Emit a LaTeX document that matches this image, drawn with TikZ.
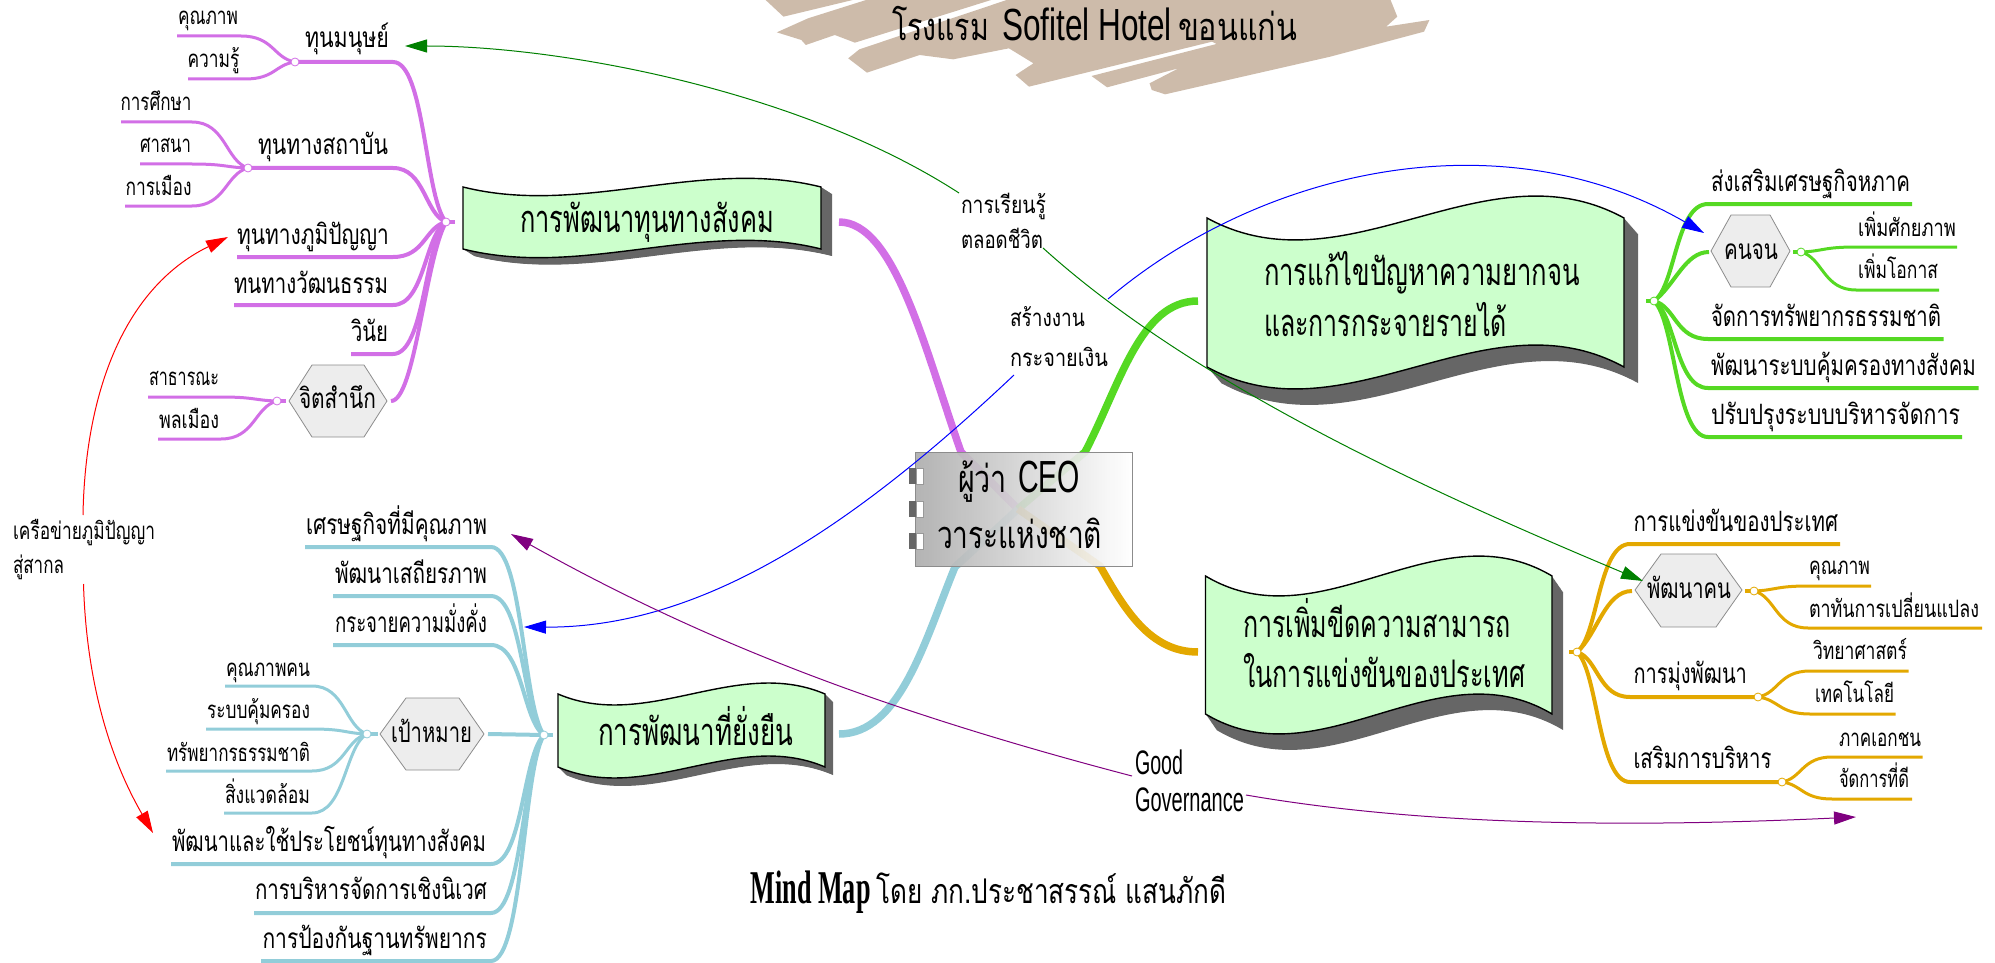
\documentclass[tikz,border=0pt]{standalone}
\usepackage{fontspec}
\usepackage{graphicx}
\usetikzlibrary{calc,arrows.meta}
\newfontfamily\thaifont[Script=Thai]{Loma}
\newfontfamily\latinsf{Liberation Sans}
\newfontfamily\latinrm{Liberation Serif}
\newcommand\fitw[2]{\resizebox{#1pt}{\height}{#2}}
\definecolor{cpur}{HTML}{D26FE6}
\definecolor{cblu}{HTML}{92CDD9}
\definecolor{cgrn}{HTML}{55D923}
\definecolor{cgld}{HTML}{E3A800}
\definecolor{cbrush}{HTML}{CDBBAA}
\definecolor{cban}{HTML}{CCFFCC}
\tikzset{
 lab/.style={inner sep=0pt,outer sep=0pt,anchor=base west,text=black},
 ssm/.style={lab,font=\thaifont\fontsize{24}{24}\selectfont},
 sbg/.style={lab,font=\thaifont\fontsize{28}{28}\selectfont},
 sban/.style={lab,font=\thaifont\fontsize{38}{38}\selectfont},
 big/.style={line width=4pt,line cap=butt},
 sml/.style={line width=3pt,line cap=butt},
 main/.style={line width=7.5pt,line cap=butt},
 hexa/.style={fill=black!7,draw=black!45,line width=.8pt},
 link/.style={line width=1pt,-{Triangle[length=22pt,width=13pt]}},
}
% hub, name, near x, far x, y, style
\newcommand\brn[6]{%
 \coordinate (#2n) at (#3,#5); \coordinate (#2f) at (#4,#5);
 \draw[#6] (#2f) -- (#2n) let \p1=(#1),\p2=(#2n),\n1={\x2+.6*(\x1-\x2)},\n2={\y1+.15*(\y2-\y1)} in .. controls (\n1,\y2) and (\n1,\n2) .. (#1);}
\newcommand\hubc[2]{\draw[#2,fill=white,line width=.8pt] (#1) circle (4pt);}
% x,y,W,H,A,shadowx,shadowy
\newcommand\bannerpath[5]{(#1,#2) .. controls ({#1+#3/3},{#2+#5}) and ({#1+2*#3/3},{#2-#5}) .. ({#1+#3},#2) -- ({#1+#3},{#2+#4}) .. controls ({#1+2*#3/3},{#2+#4-#5}) and ({#1+#3/3},{#2+#4+#5}) .. (#1,{#2+#4}) -- cycle}
\newcommand\banner[7]{%
 \foreach \k in {1,...,16}{\fill[black!60,shift={({#6*\k/16},{#7*\k/16})}] \bannerpath{#1}{#2}{#3}{#4}{#5};}
 \filldraw[fill=cban,draw=black,line width=1.4pt] \bannerpath{#1}{#2}{#3}{#4}{#5};}
\begin{document}
\begin{tikzpicture}[x=1pt,y=-1pt]
\useasboundingbox (0,0) rectangle (1995,963);
% brush
\begin{scope}[shift={(750,0)},x=.4464pt,y=-.3333pt]
\fill[cbrush] (35,0)--(75,50)--(230,0)--cycle;
\fill[cbrush] (260,0)--(130,55)--(60,97)--(115,120)--(125,135)--(190,105)--(235,128)--(540,0)--cycle;
\fill[cbrush] (575,0)--(245,148)--(220,175)--(262,218)--(380,165)--(455,178)--(580,145)--(635,190)--(595,225)--(625,260)--(1035,125)--(1045,132)--(765,228)--(800,262)--(960,205)--(895,250)--(900,270)--(930,283)--(1300,170)--(1510,95)--(1522,60)--(1425,80)--(1450,50)--(1435,0)--cycle;
\end{scope}
% hubs
\coordinate (hp) at (446,222); \coordinate (hb) at (544,735); \coordinate (hg) at (1654,301); \coordinate (hy) at (1577,652);
\coordinate (ctr) at (1018,509);
\coordinate (a1) at (295,62); \coordinate (a2) at (248,168); \coordinate (a6) at (277,401);
\coordinate (b4) at (367,734);
\coordinate (g2) at (1801,252);
\coordinate (y2) at (1754,591); \coordinate (y3) at (1758,697); \coordinate (y4) at (1782,782);
% main connectors
\coordinate (mp) at (839,222); \coordinate (mb) at (839,734); \coordinate (mg) at (1198,301); \coordinate (my) at (1198,652);
\draw[main,cpur] (mp) .. controls (895,222) and (925,350) .. (961,452) -- (ctr);
\draw[main,cblu] (mb) .. controls (900,734) and (925,640) .. (955,567) -- (ctr);
\draw[main,cgrn] (mg) .. controls (1140,301) and (1120,385) .. (1085,452) -- (ctr);
\draw[main,cgld] (my) .. controls (1150,652) and (1125,610) .. (1100,566) -- (ctr);
% purple tree
\coordinate (hpe) at (455,222); \draw[big,cpur] (hp) -- (hpe);
\brn{hp}{p1}{393}{295}{62}{big,cpur}
\brn{a1}{p11}{241}{177}{36}{sml,cpur}
\brn{a1}{p12}{245}{188}{79}{sml,cpur}
\brn{hp}{p2}{393}{248}{168}{big,cpur}
\brn{a2}{p21}{192}{121}{122}{sml,cpur}
\brn{a2}{p22}{192}{140}{164}{sml,cpur}
\brn{a2}{p23}{192}{125}{206}{sml,cpur}
\brn{hp}{p3}{393}{237}{257}{big,cpur}
\brn{hp}{p4}{393}{234}{305}{big,cpur}
\brn{hp}{p5}{393}{351}{354}{big,cpur}
\coordinate (p6e) at (391,401);
\draw[big,cpur] (p6e) .. controls (415,401) and (425,260) .. (hp);
\coordinate (p6s) at (286,401); \draw[big,cpur] (a6) -- (p6s);
\brn{a6}{p61}{221}{148}{397}{sml,cpur}
\brn{a6}{p62}{221}{158}{439}{sml,cpur}
\draw[hexa] (289,401)--(312,365)--(364,365)--(387,401)--(364,437)--(312,437)--cycle;
% blue tree
\coordinate (hbe) at (553,735); \draw[big,cblu] (hb) -- (hbe);
\brn{hb}{b1}{491}{305}{547}{big,cblu}
\brn{hb}{b2}{491}{333}{596}{big,cblu}
\brn{hb}{b3}{491}{333}{645}{big,cblu}
\coordinate (b4e) at (488,734); \draw[big,cblu] (b4e) -- (hb);
\coordinate (b4s) at (378,734); \draw[big,cblu] (b4) -- (b4s);
\brn{b4}{b41}{312}{225}{686}{sml,cblu}
\brn{b4}{b42}{312}{206}{729}{sml,cblu}
\brn{b4}{b43}{312}{166}{771}{sml,cblu}
\brn{b4}{b44}{312}{224}{813}{sml,cblu}
\draw[hexa] (380,734)--(406,698)--(459,698)--(484,734)--(459,770)--(406,770)--cycle;
\brn{hb}{b5}{491}{171}{864}{big,cblu}
\brn{hb}{b6}{491}{254}{913}{big,cblu}
\brn{hb}{b7}{491}{261}{961}{big,cblu}
% green tree
\coordinate (hge) at (1646,301); \draw[big,cgrn] (hg) -- (hge);
\brn{hg}{g1}{1708}{1912}{204}{big,cgrn}
\coordinate (g2e) at (1709,252);
\draw[big,cgrn] (g2e) .. controls (1685,252) and (1675,285) .. (hg);
\coordinate (g2s) at (1793,252); \draw[big,cgrn] (g2) -- (g2s);
\brn{g2}{g21}{1856}{1957}{247}{sml,cgrn}
\brn{g2}{g22}{1856}{1939}{290}{sml,cgrn}
\draw[hexa] (1711,251)--(1731,215)--(1770,215)--(1790,251)--(1770,287)--(1731,287)--cycle;
\brn{hg}{g3}{1708}{1943.5}{339}{big,cgrn}
\brn{hg}{g4}{1708}{1978.6}{388}{big,cgrn}
\brn{hg}{g5}{1708}{1962}{437}{big,cgrn}
% gold tree
\coordinate (hye) at (1569,652); \draw[big,cgld] (hy) -- (hye);
\brn{hy}{y1}{1630}{1840}{544}{big,cgld}
\coordinate (y2e) at (1632,591);
\draw[big,cgld] (y2e) .. controls (1605,591) and (1597,635) .. (hy);
\coordinate (y2s) at (1745,591); \draw[big,cgld] (y2) -- (y2s);
\brn{y2}{y21}{1808}{1871}{586}{sml,cgld}
\brn{y2}{y22}{1808}{1982}{628}{sml,cgld}
\draw[hexa] (1635,590)--(1661,554)--(1716,554)--(1742,590)--(1716,627)--(1661,627)--cycle;
\brn{hy}{y3n0}{1630}{1758}{697}{big,cgld}
\brn{y3}{y31}{1810}{1908.5}{671}{sml,cgld}
\brn{y3}{y32}{1810}{1895.5}{714}{sml,cgld}
\brn{hy}{y4n0}{1630}{1782}{782}{big,cgld}
\brn{y4}{y41}{1832}{1922.5}{757}{sml,cgld}
\brn{y4}{y42}{1832}{1912}{799}{sml,cgld}
% hub circles
\foreach \h/\c in {hp/cpur,a1/cpur,a2/cpur,a6/cpur,hb/cblu,b4/cblu,hg/cgrn,g2/cgrn,hy/cgld,y2/cgld,y3/cgld,y4/cgld}{\hubc{\h}{\c}}
% banners
\banner{463}{187}{358}{62}{30}{11}{7}
\banner{558}{694}{267}{73}{38}{8}{8}
\banner{1207}{218}{417}{149}{76}{14}{16}
\banner{1205.5}{576}{346.5}{138}{69}{11}{16}
% central box
\shade[left color=black!32,right color=white,draw=black!45,line width=1pt,fill opacity=.93] (915,452) rectangle (1132,566);
\foreach \ty in {468,501,533}{
 \fill[black!60] (909,\ty) rectangle (916,\ty+16);
 \filldraw[fill=white,draw=black!40,line width=.6pt] (916,\ty) rectangle (923,\ty+16);}
% banner / box text
\node[sban] (tb1) at (520,233) {\fitw{254}{การพัฒนาทุนทางสังคม}};
\node[sban] (tb4) at (598,745) {\fitw{195}{การพัฒนาที่ยั่งยืน}};
\node[sban] (tb2a) at (1264,285) {\fitw{316}{การแก้ไขปัญหาความยากจน}};
\node[sban] (tb2b) at (1264,336) {\fitw{243}{และการกระจายรายได้}};
\node[sban] (tb3a) at (1243,637) {\fitw{268}{การเพิ่มขีดความสามารถ}};
\node[sban] (tb3b) at (1243,687) {\fitw{282}{ในการแข่งขันของประเทศ}};
\node[sban] (tc1) at (958,492) {\fitw{49}{ผู้ว่า}\hspace{11pt}\fitw{62}{\latinsf\fontsize{45}{45}\selectfont CEO}};
\node[sban] (tc2) at (937,548) {\fitw{165}{วาระแห่งชาติ}};
% purple labels
\node[ssm] (l1) at (178,25) {\fitw{60}{คุณภาพ}};
\node[ssm] (l2) at (187.5,68) {\fitw{52}{ความรู้}};
\node[sbg] (l3) at (305,48) {\fitw{84}{ทุนมนุษย์}};
\node[ssm] (l4) at (120.5,111) {\fitw{71}{การศึกษา}};
\node[ssm] (l5) at (140,153) {\fitw{51}{ศาสนา}};
\node[ssm] (l6) at (125.5,195) {\fitw{66}{การเมือง}};
\node[sbg] (l7) at (258,155) {\fitw{130}{ทุนทางสถาบัน}};
\node[sbg] (l8) at (237,244) {\fitw{152}{ทุนทางภูมิปัญญา}};
\node[sbg] (l9) at (234,293) {\fitw{154}{ทนทางวัฒนธรรม}};
\node[sbg] (l10) at (351,341) {\fitw{37}{วินัย}};
\node[sbg] (l11) at (299,408) {\fitw{77}{จิตสำนึก}};
\node[ssm] (l12) at (149,385) {\fitw{70}{สาธารณะ}};
\node[ssm] (l13) at (159,428) {\fitw{60}{พลเมือง}};
% left notes
\node[ssm] (n1) at (13,539) {\fitw{142}{เครือข่ายภูมิปัญญา}};
\node[ssm] (n2) at (13,573) {\fitw{51}{สู่สากล}};
% blue labels
\node[sbg] (b1t) at (306,534) {\fitw{181}{เศรษฐกิจที่มีคุณภาพ}};
\node[sbg] (b2t) at (335,583) {\fitw{152}{พัฒนาเสถียรภาพ}};
\node[sbg] (b3t) at (335,632) {\fitw{152}{กระจายความมั่งคั่ง}};
\node[ssm] (b41t) at (226,676) {\fitw{84}{คุณภาพคน}};
\node[ssm] (b42t) at (207,718) {\fitw{103}{ระบบคุ้มครอง}};
\node[ssm] (b43t) at (167,761) {\fitw{143}{ทรัพยากรธรรมชาติ}};
\node[ssm] (b44t) at (225,803) {\fitw{85}{สิ่งแวดล้อม}};
\node[sbg] (b4t) at (391,742) {\fitw{81}{เป้าหมาย}};
\node[sbg] (b5t) at (172,851) {\fitw{314}{พัฒนาและใช้ประโยชน์ทุนทางสังคม}};
\node[sbg] (b6t) at (255,899) {\fitw{232}{การบริหารจัดการเชิงนิเวศ}};
\node[sbg] (b7t) at (262.5,948) {\fitw{224.5}{การป้องกันฐานทรัพยากร}};
% green labels
\node[sbg] (g1t) at (1711,192) {\fitw{199}{ส่งเสริมเศรษฐกิจหภาค}};
\node[sbg] (g2t) at (1724,259) {\fitw{54}{คนจน}};
\node[ssm] (g21t) at (1858,236) {\fitw{98}{เพิ่มศักยภาพ}};
\node[ssm] (g22t) at (1858,278) {\fitw{80}{เพิ่มโอกาส}};
\node[sbg] (g3t) at (1711,326) {\fitw{230}{จัดการทรัพยากรธรรมชาติ}};
\node[sbg] (g4t) at (1711,375) {\fitw{265}{พัฒนาระบบคุ้มครองทางสังคม}};
\node[sbg] (g5t) at (1711,424) {\fitw{249}{ปรับปรุงระบบบริหารจัดการ}};
% gold labels
\node[sbg] (y1t) at (1633.5,531) {\fitw{204.5}{การแข่งขันของประเทศ}};
\node[sbg] (y2t) at (1647,598) {\fitw{84}{พัฒนาคน}};
\node[ssm] (y21t) at (1809,574) {\fitw{61}{คุณภาพ}};
\node[ssm] (y22t) at (1809,617) {\fitw{170}{ตาทันการเปลี่ยนแปลง}};
\node[ssm] (y31t) at (1813,659) {\fitw{94}{วิทยาศาสตร์}};
\node[ssm] (y32t) at (1815,702) {\fitw{79}{เทคโนโลยี}};
\node[sbg] (y3t) at (1633.5,683) {\fitw{113.5}{การมุ่งพัฒนา}};
\node[sbg] (y4t) at (1633.5,768) {\fitw{138}{เสริมการบริหาร}};
\node[ssm] (y41t) at (1839,746) {\fitw{82}{ภาคเอกชน}};
\node[ssm] (y42t) at (1839,787) {\fitw{70}{จัดการที่ดี}};
% middle labels
\node[ssm] (m1) at (961,213) {\fitw{85}{การเรียนรู้}};
\node[ssm] (m2) at (961,248) {\fitw{82}{ตลอดชีวิต}};
\node[ssm] (m3) at (1010,326) {\fitw{75}{สร้างงาน}};
\node[ssm] (m4) at (1010,366) {\fitw{98}{กระจายเงิน}};
\node[lab,font=\latinsf\fontsize{34}{34}\selectfont] (m5) at (1135,774) {\fitw{48}{Good}};
\node[lab,font=\latinsf\fontsize{34}{34}\selectfont] (m6) at (1135,811) {\fitw{109}{Governance}};
% titles
\node[sbg] (t1) at (892,41) {\fitw{97}{\fontsize{38}{38}\selectfont โรงแรม}\hspace{13pt}\fitw{170}{\latinsf\fontsize{45}{45}\selectfont Sofitel Hotel}\hspace{6pt}\fitw{119}{\fontsize{38}{38}\selectfont ขอนแก่น}};
\node[sbg] (t2) at (750.6,903) {\fitw{120}{\latinrm\bfseries\fontsize{47}{47}\selectfont Mind Map}\hspace{6pt}\fitw{350}{\fontsize{34}{34}\selectfont โดย ภก.ประชาสรรณ์ แสนภักดี}};
% links
\coordinate (s1) at (959,193); \coordinate (e1) at (405,46);
\coordinate (s2) at (1043,248); \coordinate (e2) at (1643,581);
\coordinate (s3) at (1014,375); \coordinate (e3) at (524,627);
\coordinate (s4) at (1108,299); \coordinate (e4) at (1704,233);
\coordinate (s5) at (1132,776); \coordinate (e5) at (511,534);
\coordinate (s6) at (1246,795); \coordinate (e6) at (1856,817);
\coordinate (s7) at (83,515); \coordinate (e7) at (228,237);
\coordinate (s8) at (83.5,584); \coordinate (e8) at (153,833);
\definecolor{lgrn}{HTML}{008000}\definecolor{lpur}{HTML}{800080}
\draw[link,lgrn] (s1) .. controls (800,90) and (560,46) .. (e1);
\draw[link,lgrn] (s2) .. controls (1200,390) and (1450,500) .. (e2);
\draw[link,blue] (s3) .. controls (850,530) and (700,628) .. (e3);
\draw[link,blue] (s4) .. controls (1260,170) and (1500,115) .. (e4);
\draw[link,lpur] (s5) .. controls (880,710) and (700,640) .. (e5);
\draw[link,lpur] (s6) .. controls (1420,825) and (1620,828) .. (e6);
\draw[link,red] (s7) .. controls (85,400) and (120,290) .. (e7);
\draw[link,red] (s8) .. controls (86,670) and (105,750) .. (e8);
\end{tikzpicture}
\end{document}
